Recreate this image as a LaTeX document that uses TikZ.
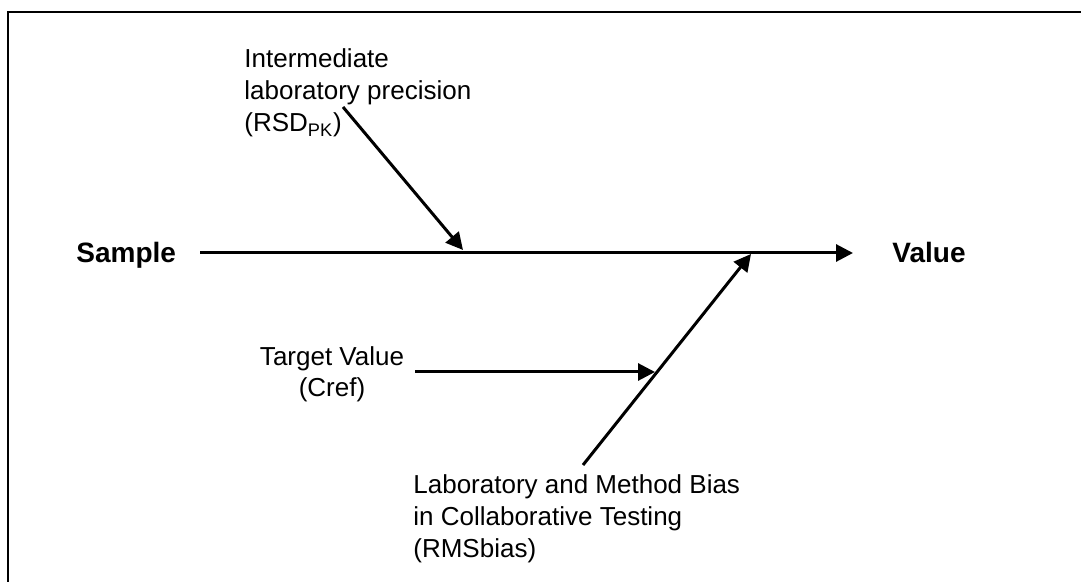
\documentclass[tikz,border=0pt]{standalone}
\usepackage{fontspec}
\setmainfont{Liberation Sans}
\usetikzlibrary{arrows.meta}
\begin{document}
\begin{tikzpicture}[x=0.5pt,y=-0.5pt,
  conn/.style={line width=1.5pt,-{Triangle[length=8.5pt,width=8.5pt]}},
  lbl/.style={inner sep=0pt,font=\fontsize{13}{16}\selectfont},
  big/.style={inner sep=0pt,font=\fontsize{14}{17}\selectfont\bfseries},
  frame/.style={line width=1.1pt}]
\useasboundingbox (0,0) rectangle (1081,582);
\draw[frame] (8,590) -- (8,12) -- (1090,12);
% labels (base anchor = baseline of the last line)
\node[big,anchor=base west] (sample) at (76,263) {Sample};
\node[big,anchor=base west] (value) at (892,263) {Value};
\node[lbl,align=left,anchor=base west] (prec) at (244,132) {Intermediate\\laboratory precision\\(RSD\textsubscript{PK})};
\node[lbl,align=center,anchor=base] (target) at (332,397) {Target Value\\(Cref)};
\node[lbl,align=left,anchor=base west] (bias) at (413,557) {Laboratory and Method Bias\\in Collaborative Testing\\(RMSbias)};
% connector ends
\coordinate (ms) at (200,253);
\coordinate (me) at (853,253);
\coordinate (ps) at (343,107);
\coordinate (pe) at (463,250);
\coordinate (bs) at (583,465);
\coordinate (be) at (751,254);
\coordinate (ts) at (415,372);
\coordinate (te) at (655,372);
% connectors
\draw[conn] (ms) -- (me);
\draw[conn] (ps) -- (pe);
\draw[conn] (bs) -- (be);
\draw[conn] (ts) -- (te);
\end{tikzpicture}
\end{document}
